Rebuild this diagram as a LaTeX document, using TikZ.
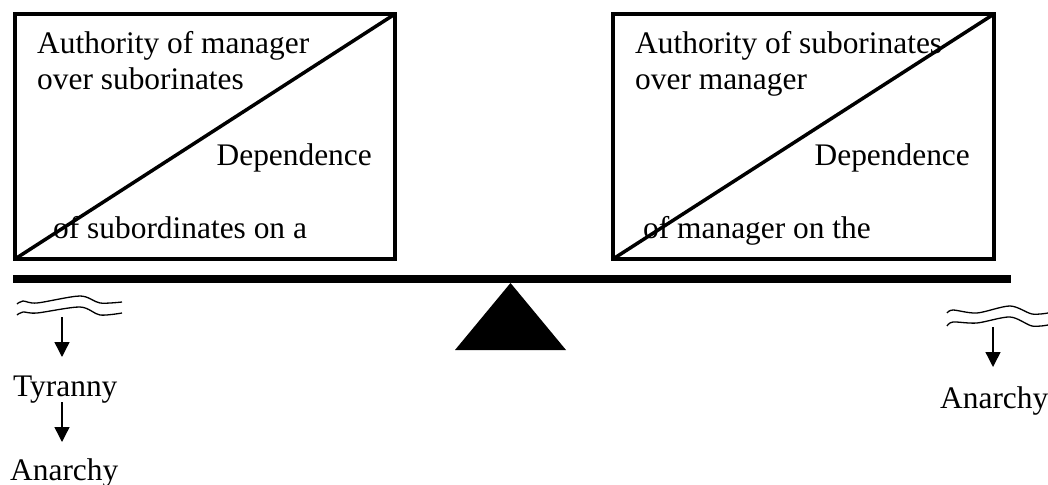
\documentclass[tikz,border=0pt]{standalone}
\usepackage{fontspec}
\setmainfont{Liberation Serif}
\usetikzlibrary{arrows.meta}
\begin{document}
\begin{tikzpicture}[x=1pt,y=-1pt,
  lbl/.style={inner sep=0pt,anchor=base west,font=\fontsize{31.4}{36}\selectfont},
  lblr/.style={lbl,anchor=base east},
  panel/.style={draw=black,line width=3.5pt},
  wave/.style={line width=1.3pt},
  down/.style={line width=1.4pt,-{Triangle[length=15pt,width=15pt]}}]
\useasboundingbox (0,0) rectangle (1048,484);

% left panel
\draw[panel] (15,14) rectangle (395,259);
\draw[panel] (15,259) -- (395,14);
\node[lbl] (la1) at (37,54) {Authority of manager};
\node[lbl] (la2) at (37,90) {over suborinates};
\node[lblr] (ld) at (372,165) {Dependence};
\node[lbl] (lo) at (53,238) {of subordinates on a};

% right panel
\draw[panel] (613,14) rectangle (994,259);
\draw[panel] (613,259) -- (994,14);
\node[lbl] (ra1) at (635,54) {Authority of suborinates};
\node[lbl] (ra2) at (635,90) {over manager};
\node[lblr] (rd) at (970,165) {Dependence};
\node[lbl] (ro) at (643,238) {of manager on the};

% beam and fulcrum
\fill (13,275) rectangle (1011,283);
\fill (455,350) -- (510.5,283) -- (566,350) -- cycle;

% left break mark and chain of outcomes
\draw[wave] plot[smooth,tension=0.5] coordinates {(17,304) (23,301) (37,303) (80,296) (100,303) (122,302)};
\draw[wave] plot[smooth,tension=0.5] coordinates {(17,315) (23,312) (37,313) (80,307) (100,315) (122,313)};
\node[lbl] (ty) at (13,396) {Tyranny};
\node[lbl] (la) at (10,480) {Anarchy};
\coordinate (w1) at (62,317);
\coordinate (t1) at (62,357);
\coordinate (t2s) at (62,402);
\coordinate (t2) at (62,442);
\draw[down] (w1) -- (t1);
\draw[down] (t2s) -- (t2);

% right break mark and outcome
\draw[wave] plot[smooth,tension=0.5] coordinates {(947,313) (953,310) (977,313) (1010,306) (1032,314) (1048,313)};
\draw[wave] plot[smooth,tension=0.5] coordinates {(947,326) (953,322) (977,323) (1010,317) (1032,326) (1048,325)};
\node[lbl] (ra) at (940,408) {Anarchy};
\coordinate (w2) at (993,327);
\coordinate (t3) at (993,367);
\draw[down] (w2) -- (t3);
\end{tikzpicture}
\end{document}
